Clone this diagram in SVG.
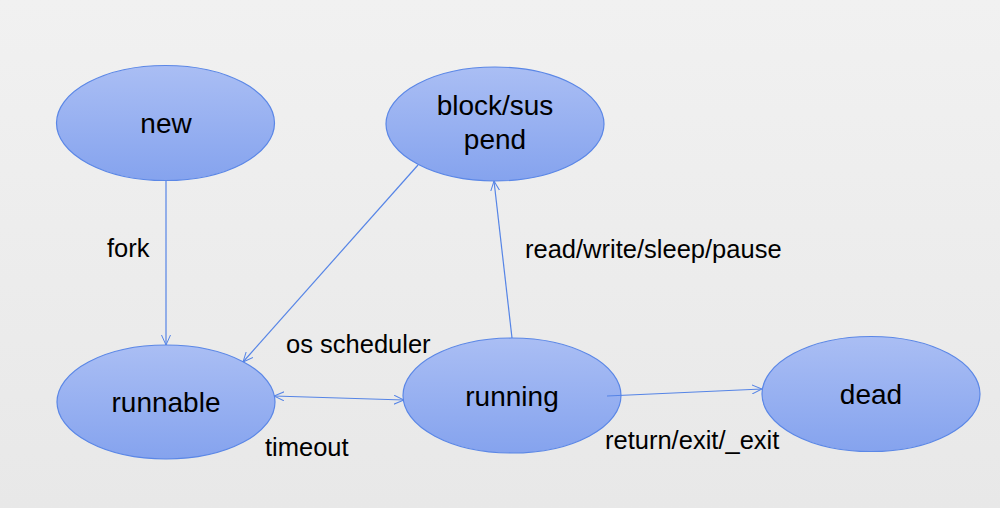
<svg xmlns="http://www.w3.org/2000/svg" width="1000" height="508" viewBox="0 0 1000 508">
<defs>
<linearGradient id="bg" x1="0" y1="0" x2="0" y2="1">
<stop offset="0" stop-color="#f1f1f1"/>
<stop offset="1" stop-color="#e8e8e8"/>
</linearGradient>
<linearGradient id="nodeFill" x1="0" y1="0" x2="0" y2="1">
<stop offset="0" stop-color="#aabef4"/>
<stop offset="1" stop-color="#85a3ee"/>
</linearGradient>
<marker id="arr" viewBox="0 0 10 10" refX="10" refY="5" markerWidth="10" markerHeight="10" markerUnits="userSpaceOnUse" orient="auto-start-reverse">
<path d="M0,0.5 L10,5 L0,9.5" fill="none" stroke="#5584e6" stroke-width="1"/>
</marker>
<style>
.node ellipse { fill: url(#nodeFill); stroke: #5b87e6; stroke-width: 1.2; }
.node text { font-family: "Liberation Sans", Arial, sans-serif; font-size: 28px; fill: #000; text-anchor: middle; }
.edge { fill: none; stroke: #5584e6; stroke-width: 1.2; marker-end: url(#arr); }
.label { font-family: "Liberation Sans", Arial, sans-serif; font-size: 25.5px; fill: #000; }
</style>
</defs>
<rect x="0" y="0" width="1000" height="508" fill="url(#bg)"/>

<g id="node-new" class="node">
<ellipse cx="165.5" cy="123" rx="109" ry="57.5"/>
<text x="166" y="133">new</text>
</g>
<g id="node-block" class="node">
<ellipse cx="495" cy="124" rx="109" ry="57"/>
<text x="495" y="115">block/sus</text>
<text x="495" y="149">pend</text>
</g>
<g id="node-runnable" class="node">
<ellipse cx="166" cy="402" rx="109" ry="57"/>
<text x="166" y="412">runnable</text>
</g>
<g id="node-running" class="node">
<ellipse cx="512" cy="395.5" rx="109" ry="57.5"/>
<text x="512" y="406">running</text>
</g>
<g id="node-dead" class="node">
<ellipse cx="871" cy="394" rx="109" ry="57.5"/>
<text x="871" y="404">dead</text>
</g>

<g id="connectors">
<line id="e-new-runnable" class="edge" x1="166" y1="181" x2="166" y2="345"/>
<line id="e-block-runnable" class="edge" x1="418" y1="165" x2="243" y2="362"/>
<line id="e-running-block" class="edge" x1="512" y1="338" x2="494" y2="181"/>
<line id="e-runnable-running" class="edge" x1="274" y1="396" x2="404" y2="400" marker-start="url(#arr)"/>
<line id="e-running-dead" class="edge" x1="607" y1="396" x2="762" y2="389"/>
<text class="label" x="107" y="257">fork</text>
<text class="label" x="525" y="258">read/write/sleep/pause</text>
<text class="label" x="286" y="353">os scheduler</text>
<text class="label" x="265" y="456">timeout</text>
<text class="label" x="605" y="449">return/exit/_exit</text>
</g>
</svg>
